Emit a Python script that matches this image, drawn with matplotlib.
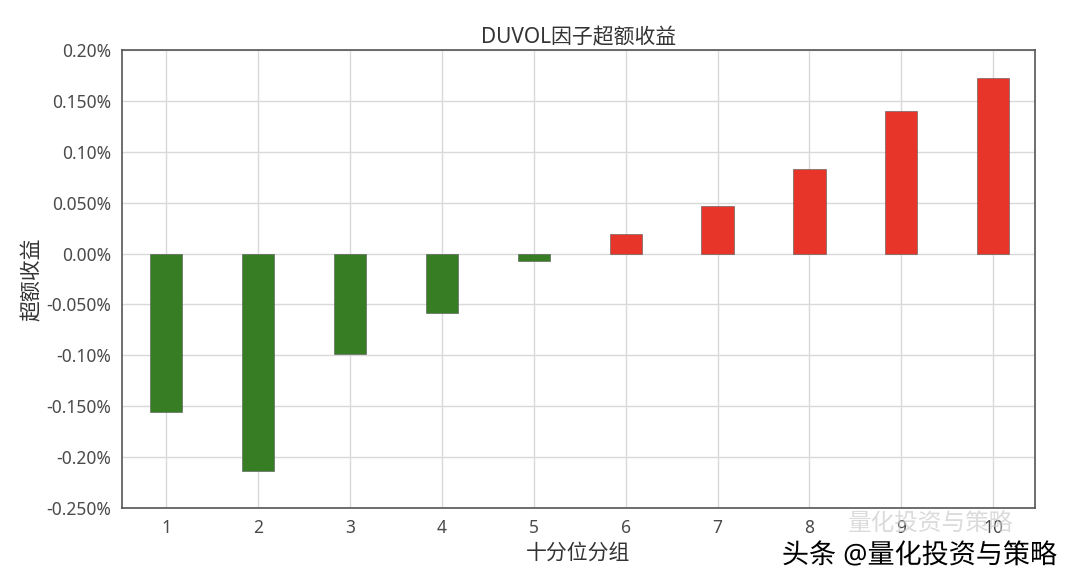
import matplotlib
matplotlib.use('Agg')
import matplotlib.pyplot as plt
import matplotlib.patheffects as pe

plt.rcParams['font.family'] = ['Noto Sans', 'Noto Sans CJK SC', 'DejaVu Sans']

# decile groups and excess returns (in %)
groups = [1, 2, 3, 4, 5, 6, 7, 8, 9, 10]
excess = [-0.156, -0.214, -0.099, -0.058, -0.007, 0.019, 0.047, 0.083, 0.140, 0.173]
yticks = [0.20, 0.15, 0.10, 0.05, 0.0, -0.05, -0.10, -0.15, -0.20, -0.25]
ytick_labels = ['0.20%', '0.150%', '0.10%', '0.050%', '0.00%',
                '-0.050%', '-0.10%', '-0.150%', '-0.20%', '-0.250%']

fig = plt.figure(figsize=(10.8, 5.77), dpi=100)
ax = fig.add_axes([0.113, 0.1196, 0.845, 0.7937])

colors = ['#e8352a' if v > 0 else '#367d24' for v in excess]
ax.bar(groups, excess, width=0.35, color=colors, edgecolor='#555555', linewidth=0.4, zorder=3)

ax.set_xlim(0.52, 10.45)
ax.set_ylim(-0.25, 0.20)
ax.set_xticks(groups)
ax.set_yticks(yticks)
ax.set_yticklabels(ytick_labels)
ax.grid(True, color='#d9d9d9', linewidth=1.0, zorder=0)
ax.tick_params(length=0, labelsize=12.5, colors='#4a4a4a', pad=8)
for s in ax.spines.values():
    s.set_color('#555555')
    s.set_linewidth(1.2)

ax.set_title('DUVOL因子超额收益', fontsize=15, color='#333333', pad=5)
ax.set_xlabel('十分位分组', fontsize=15, color='#333333', labelpad=4)
ax.set_ylabel('超额收益', fontsize=15, color='#333333', labelpad=2)

# watermarks
fig.text(0.785, 0.082, '量化投资与策略', fontsize=17, color='#cccccc', alpha=0.7)
fig.text(0.724, 0.024, '头条 @量化投资与策略', fontsize=19.5, color='black',
         path_effects=[pe.withStroke(linewidth=3, foreground='white')])

fig.savefig('out.png', dpi=100)
